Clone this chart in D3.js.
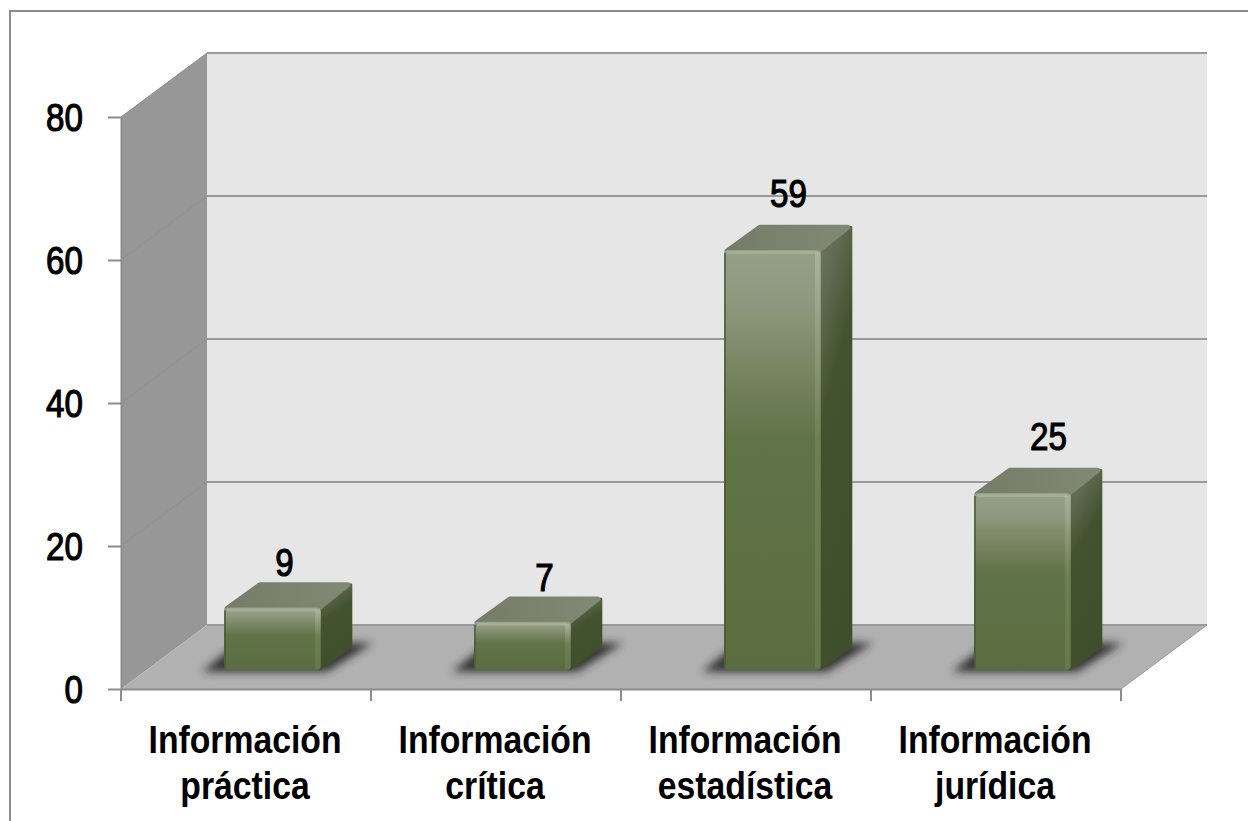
<!DOCTYPE html>
<html>
  <head>
    <meta charset="utf-8">
    <title>Información</title>
    <style>
      html, body { margin: 0; background: #fff; }
      svg { display: block; }
      text { font-family: "Liberation Sans", Arial, sans-serif; fill: #000; }
    </style>
  </head>
  <body>
    <script src="https://cdn.jsdelivr.net/npm/d3@7/dist/d3.min.js" charset="utf-8"></script>
    <script type="text/javascript">
      var categories = ["práctica", "crítica", "estadística", "jurídica"];
      var firstLine = "Información";
      var values = [9, 7, 59, 25];
      var yTicks = [0, 20, 40, 60, 80];

      var width = 1248;
      var height = 821;
      var depthX = 86;
      var depthY = 64;
      var barWidth = 97;
      var barNear = 0.3;
      var barFar = 0.67;
      var topInset = 2;

      // hand placed data labels in the original, offset from the bar's front top
      var labelDx = [12, 22, 16, 26];
      var labelDy = [31, 31, 43, 43];

      var x = d3.scaleBand().domain(categories).range([121, 1121]);
      var y = d3.scaleLinear().domain([0, 80]).range([689, 117]);
      var line = d3.line();

      // position in the 3d box, d = 0 front plane, d = 1 back wall
      function px(v, d) { return v + depthX * d; }
      function py(v, d) { return y(v) - depthY * d; }
      function barLeft(c) { return x(c) + (x.bandwidth() - barWidth) / 2 + depthX * barNear + 0.7; }
      function frontTop(i) { return py(values[i], barNear) + topInset; }

      var svg = d3.select("body").append("svg")
                  .attr("width", width)
                  .attr("height", height);

      var defs = svg.append("defs");
      defs.append("filter").attr("id", "blur")
          .attr("x", "-30%").attr("y", "-60%").attr("width", "160%").attr("height", "220%")
          .append("feGaussianBlur").attr("stdDeviation", 4);

      function gradient(id, x2, y2, stops) {
        var g = defs.append("linearGradient").attr("id", id)
                    .attr("x1", 0).attr("y1", 0).attr("x2", x2).attr("y2", y2);
        stops.forEach(function(s) {
          g.append("stop").attr("offset", s[0]).attr("stop-color", s[1]);
        });
      }
      gradient("front", 0, 1, [[0, "#969f88"], [0.12, "#8f9980"], [0.3, "#76835f"], [0.45, "#617348"], [1, "#5a6c40"]]);
      gradient("side", 0.25, 1, [[0, "#6f7664"], [0.18, "#5f6a50"], [0.42, "#435330"], [1, "#3f4f2b"]]);
      gradient("edge", 0, 1, [[0, "#b3bba6"], [0.45, "#74875a"], [1, "#6b7f50"]]);
      gradient("top", 1, 0, [[0, "#757c68"], [1, "#818874"]]);

      // frame, only the top and left edges show in the crop
      svg.append("path")
         .attr("d", line([[10, height], [10, 11], [width, 11]]))
         .attr("fill", "none").attr("stroke", "#8c8c8c").attr("stroke-width", 2);

      // walls and floor
      svg.append("path")
         .attr("d", line([[px(121, 1), py(80, 1)], [px(1121, 1), py(80, 1)], [px(1121, 1), py(0, 1)], [px(121, 1), py(0, 1)]]) + "Z")
         .attr("fill", "#e6e6e6");
      svg.append("path")
         .attr("d", line([[121, py(80, 0)], [px(121, 1), py(80, 1)], [px(121, 1), py(0, 1)], [121, py(0, 0)]]) + "Z")
         .attr("fill", "#979797");
      svg.append("path")
         .attr("d", line([[121, py(0, 0)], [px(121, 1), py(0, 1)], [px(1121, 1), py(0, 1)], [1121, py(0, 0)]]) + "Z")
         .attr("fill", "#b1b1b1");

      // gridlines run along the side wall and the back wall
      svg.selectAll(".wallgrid").data(yTicks.slice(1, 4)).enter().append("line")
         .attr("class", "wallgrid")
         .attr("x1", 121).attr("y1", function(d) { return py(d, 0); })
         .attr("x2", px(121, 1)).attr("y2", function(d) { return py(d, 1); })
         .attr("stroke", "#8f8f8f").attr("stroke-width", 1);
      svg.selectAll(".grid").data(yTicks).enter().append("line")
         .attr("class", "grid")
         .attr("x1", px(121, 1)).attr("y1", function(d) { return py(d, 1); })
         .attr("x2", px(1121, 1)).attr("y2", function(d) { return py(d, 1); })
         .attr("stroke", "#9a9a9a").attr("stroke-width", 2);
      svg.append("path")
         .attr("d", line([[121, py(80, 0)], [px(121, 1), py(80, 1)]]))
         .attr("stroke", "#8c8c8c").attr("fill", "none");
      svg.append("path")
         .attr("d", line([[1121, py(0, 0)], [px(1121, 1), py(0, 1)]]))
         .attr("stroke", "#9a9a9a").attr("fill", "none");

      // axes
      var axisY = svg.append("g").attr("transform", "translate(121,0)")
                     .call(d3.axisLeft(y).tickValues(yTicks).tickSize(13).tickSizeOuter(0).tickFormat(""));
      var axisX = svg.append("g").attr("transform", "translate(0,689)")
                     .call(d3.axisBottom(x).tickSize(0).tickSizeOuter(0).tickFormat(""));
      svg.selectAll(".xtick").data(d3.range(categories.length + 1)).enter().append("line")
         .attr("class", "xtick")
         .attr("x1", function(i) { return 121 + i * x.step(); })
         .attr("x2", function(i) { return 121 + i * x.step(); })
         .attr("y1", 689).attr("y2", 701);
      svg.selectAll(".xtick").attr("stroke", "#8c8c8c").attr("stroke-width", 2);
      [axisY, axisX].forEach(function(a) {
        a.selectAll("path, line").attr("stroke", "#8c8c8c").attr("stroke-width", 2);
      });

      // tick labels, the original font is squeezed sideways
      svg.selectAll(".ylab").data(yTicks).enter().append("text")
         .attr("class", "ylab")
         .attr("transform", function(d) { return "translate(83," + (y(d) + 14) + ") scale(0.85,1)"; })
         .attr("text-anchor", "end")
         .attr("font-size", 39)
         .attr("stroke", "#000").attr("stroke-width", 1.2)
         .text(function(d) { return d; });

      var xlab = svg.selectAll(".xlab").data(categories).enter().append("text")
         .attr("class", "xlab")
         .attr("text-anchor", "middle")
         .attr("font-size", 39)
         .attr("font-weight", "bold");
      xlab.append("tspan")
         .attr("x", 0).attr("y", 0)
         .text(firstLine);
      xlab.append("tspan")
         .attr("x", 0).attr("y", 46)
         .text(function(d) { return d; });
      xlab.attr("transform", function(d) {
        return "translate(" + (x(d) + x.bandwidth() / 2 - 1) + ",753) scale(0.865,1)";
      });

      // bars
      var bars = svg.selectAll(".bar").data(categories).enter().append("g").attr("class", "bar");

      bars.append("path")
          .attr("d", function(c) {
            var l = barLeft(c), r = l + barWidth;
            return line([[l - 22, py(0, barNear) + 2], [r + 6, py(0, barNear) + 2],
                         [r + depthX * (barFar - barNear) + 20, py(0, barFar) - 3],
                         [l + 14, py(0, barFar) - 3]]) + "Z";
          })
          .attr("fill", "#262626")
          .attr("opacity", 0.9)
          .attr("filter", "url(#blur)");

      bars.append("path")
          .attr("d", function(c, i) {
            var r = barLeft(c) + barWidth, v = values[i], s = depthX * (barFar - barNear);
            return line([[r - 1, frontTop(i) + 2], [r + s - 2, py(v, barFar) + 3],
                         [r + s - 2, py(0, barFar)], [r - 1, py(0, barNear) - 1]]) + "Z";
          })
          .attr("fill", "url(#side)")
          .attr("stroke", "url(#side)").attr("stroke-width", 3).attr("stroke-linejoin", "round");

      bars.append("path")
          .attr("d", function(c, i) {
            var l = barLeft(c), r = l + barWidth, v = values[i], s = depthX * (barFar - barNear);
            return line([[l + 3, frontTop(i) + 1], [l + s + 4, py(v, barFar) + 3],
                         [r + s - 5, py(v, barFar) + 3], [r - 3, frontTop(i) + 1]]) + "Z";
          })
          .attr("fill", "url(#top)")
          .attr("stroke", "url(#top)").attr("stroke-width", 5).attr("stroke-linejoin", "round");

      bars.append("rect")
          .attr("x", barLeft)
          .attr("y", function(c, i) { return frontTop(i); })
          .attr("width", barWidth)
          .attr("height", function(c, i) { return y(0) - y(values[i]) - topInset; })
          .attr("rx", 4)
          .attr("fill", "url(#front)");

      // bevels
      bars.append("rect")
          .attr("x", function(c) { return barLeft(c) + barWidth - 6; })
          .attr("y", function(c, i) { return frontTop(i) + 2; })
          .attr("width", 5)
          .attr("height", function(c, i) { return y(0) - y(values[i]) - topInset - 3; })
          .attr("fill", "url(#edge)")
          .attr("opacity", 0.65);
      bars.append("rect")
          .attr("x", function(c) { return barLeft(c) + 3; })
          .attr("y", function(c, i) { return frontTop(i) + 1; })
          .attr("width", barWidth - 7)
          .attr("height", 3)
          .attr("fill", "#b3bba6")
          .attr("opacity", 0.55);
      bars.append("rect")
          .attr("x", barLeft)
          .attr("y", function(c, i) { return frontTop(i) + 3; })
          .attr("width", 2)
          .attr("height", function(c, i) { return y(0) - y(values[i]) - topInset - 5; })
          .attr("fill", "#47582f")
          .attr("opacity", 0.7);

      // data labels
      bars.append("text")
          .attr("transform", function(c, i) {
            var cx = barLeft(c) + barWidth / 2 + labelDx[i];
            return "translate(" + cx + "," + (frontTop(i) - labelDy[i]) + ") scale(0.85,1)";
          })
          .attr("text-anchor", "middle")
          .attr("font-size", 39)
          .attr("stroke", "#000").attr("stroke-width", 1.2)
          .text(function(c, i) { return values[i]; });
    </script>
  </body>
</html>
